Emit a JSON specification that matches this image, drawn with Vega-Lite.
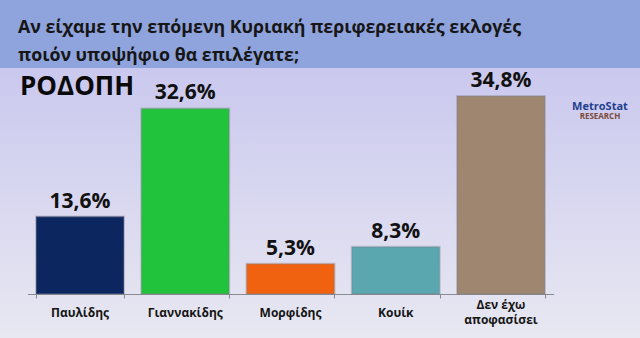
{
  "$schema": "https://vega.github.io/schema/vega-lite/v6.json",
  "width": 640,
  "height": 270,
  "autosize": {"type": "none"},
  "padding": {"top": 68, "left": 0, "right": 0, "bottom": 0},
  "background": "#8fa3dc",
  "title": {
    "text": ["Αν είχαμε την επόμενη Κυριακή περιφερειακές εκλογές", "ποιόν υποψήφιο θα επιλέγατε;"],
    "anchor": "start",
    "frame": "group",
    "dx": 18,
    "offset": 3,
    "fontSize": 17.8,
    "font": "Open Sans",
    "fontWeight": "bold",
    "color": "#161616",
    "lineHeight": 28
  },
  "config": {
    "font": "Open Sans",
    "view": {
      "stroke": null,
      "fill": {"gradient": "linear", "x1": 0, "y1": 0, "x2": 0, "y2": 1,
        "stops": [{"offset": 0, "color": "#cac8ee"}, {"offset": 1, "color": "#e8e8f2"}]}
    }
  },
  "data": {
    "values": [
      {"candidate": "Παυλίδης", "value": 13.6, "label": "13,6%"},
      {"candidate": "Γιαννακίδης", "value": 32.6, "label": "32,6%"},
      {"candidate": "Μορφίδης", "value": 5.3, "label": "5,3%"},
      {"candidate": "Κουίκ", "value": 8.3, "label": "8,3%"},
      {"candidate": "Δεν έχω αποφασίσει", "value": 34.8, "label": "34,8%"}
    ]
  },
  "encoding": {
    "x": {
      "field": "candidate",
      "type": "nominal",
      "sort": null,
      "scale": {"range": [27.4, 553.6], "paddingInner": 0.164, "paddingOuter": 0.082},
      "axis": {
        "title": null,
        "orient": "bottom",
        "offset": -44,
        "domainColor": "#8a8a90",
        "tickColor": "#8a8a90",
        "tickSize": 4,
        "tickBand": "extent",
        "labels": false
      }
    }
  },
  "layer": [
    {
      "mark": {"type": "bar", "stroke": "#7f7f8a", "strokeOpacity": 0.35, "strokeWidth": 2},
      "encoding": {
        "y": {"field": "value", "type": "quantitative", "scale": {"domain": [-7.73, 39.7], "nice": false}, "axis": null},
        "color": {
          "field": "candidate", "type": "nominal", "sort": null, "legend": null,
          "scale": {"range": ["#0c2660", "#20c33b", "#f0620f", "#5aa7b0", "#9f8670"]}
        }
      }
    },
    {
      "mark": {"type": "text", "baseline": "alphabetic", "dy": -9, "fontSize": 21, "fontWeight": "bold", "color": "#111111"},
      "encoding": {
        "y": {"field": "value", "type": "quantitative"},
        "text": {"field": "label"}
      }
    },
    {
      "transform": [{"filter": "datum.candidate != 'Δεν έχω αποφασίσει'"}],
      "mark": {"type": "text", "baseline": "middle", "fontSize": 12, "fontWeight": "bold", "color": "#151515"},
      "encoding": {
        "y": {"datum": -3.34, "type": "quantitative"},
        "text": {"field": "candidate"}
      }
    },
    {
      "data": {"values": [{"candidate": "Δεν έχω αποφασίσει", "value": -1.95, "t": ["Δεν έχω", "αποφασίσει"]}]},
      "mark": {"type": "text", "baseline": "middle", "fontSize": 12, "fontWeight": "bold", "color": "#151515", "lineHeight": 15},
      "encoding": {
        "y": {"field": "value", "type": "quantitative"},
        "text": {"field": "t"}
      }
    },
    {
      "data": {"values": [{"candidate": "Παυλίδης", "value": 35.0, "t": "ΡΟΔΟΠΗ"}]},
      "mark": {"type": "text", "align": "left", "baseline": "alphabetic", "dx": -60, "fontSize": 26, "fontWeight": "bold", "color": "#0a0a0a"},
      "encoding": {
        "y": {"field": "value", "type": "quantitative"},
        "text": {"field": "t"}
      }
    },
    {
      "data": {"values": [{"candidate": "Δεν έχω αποφασίσει", "value": 32.9, "t": "MetroStat"}]},
      "mark": {"type": "text", "align": "center", "baseline": "middle", "dx": 99, "fontWeight": "bold", "fontSize": 11, "color": "#1f3f8f"},
      "encoding": {
        "y": {"field": "value", "type": "quantitative"},
        "text": {"field": "t"}
      }
    },
    {
      "data": {"values": [{"candidate": "Δεν έχω αποφασίσει", "value": 31.1, "t": "RESEARCH"}]},
      "mark": {"type": "text", "align": "center", "baseline": "middle", "dx": 99, "fontWeight": "bold", "fontSize": 8, "color": "#7a4a3a"},
      "encoding": {
        "y": {"field": "value", "type": "quantitative"},
        "text": {"field": "t"}
      }
    }
  ]
}
